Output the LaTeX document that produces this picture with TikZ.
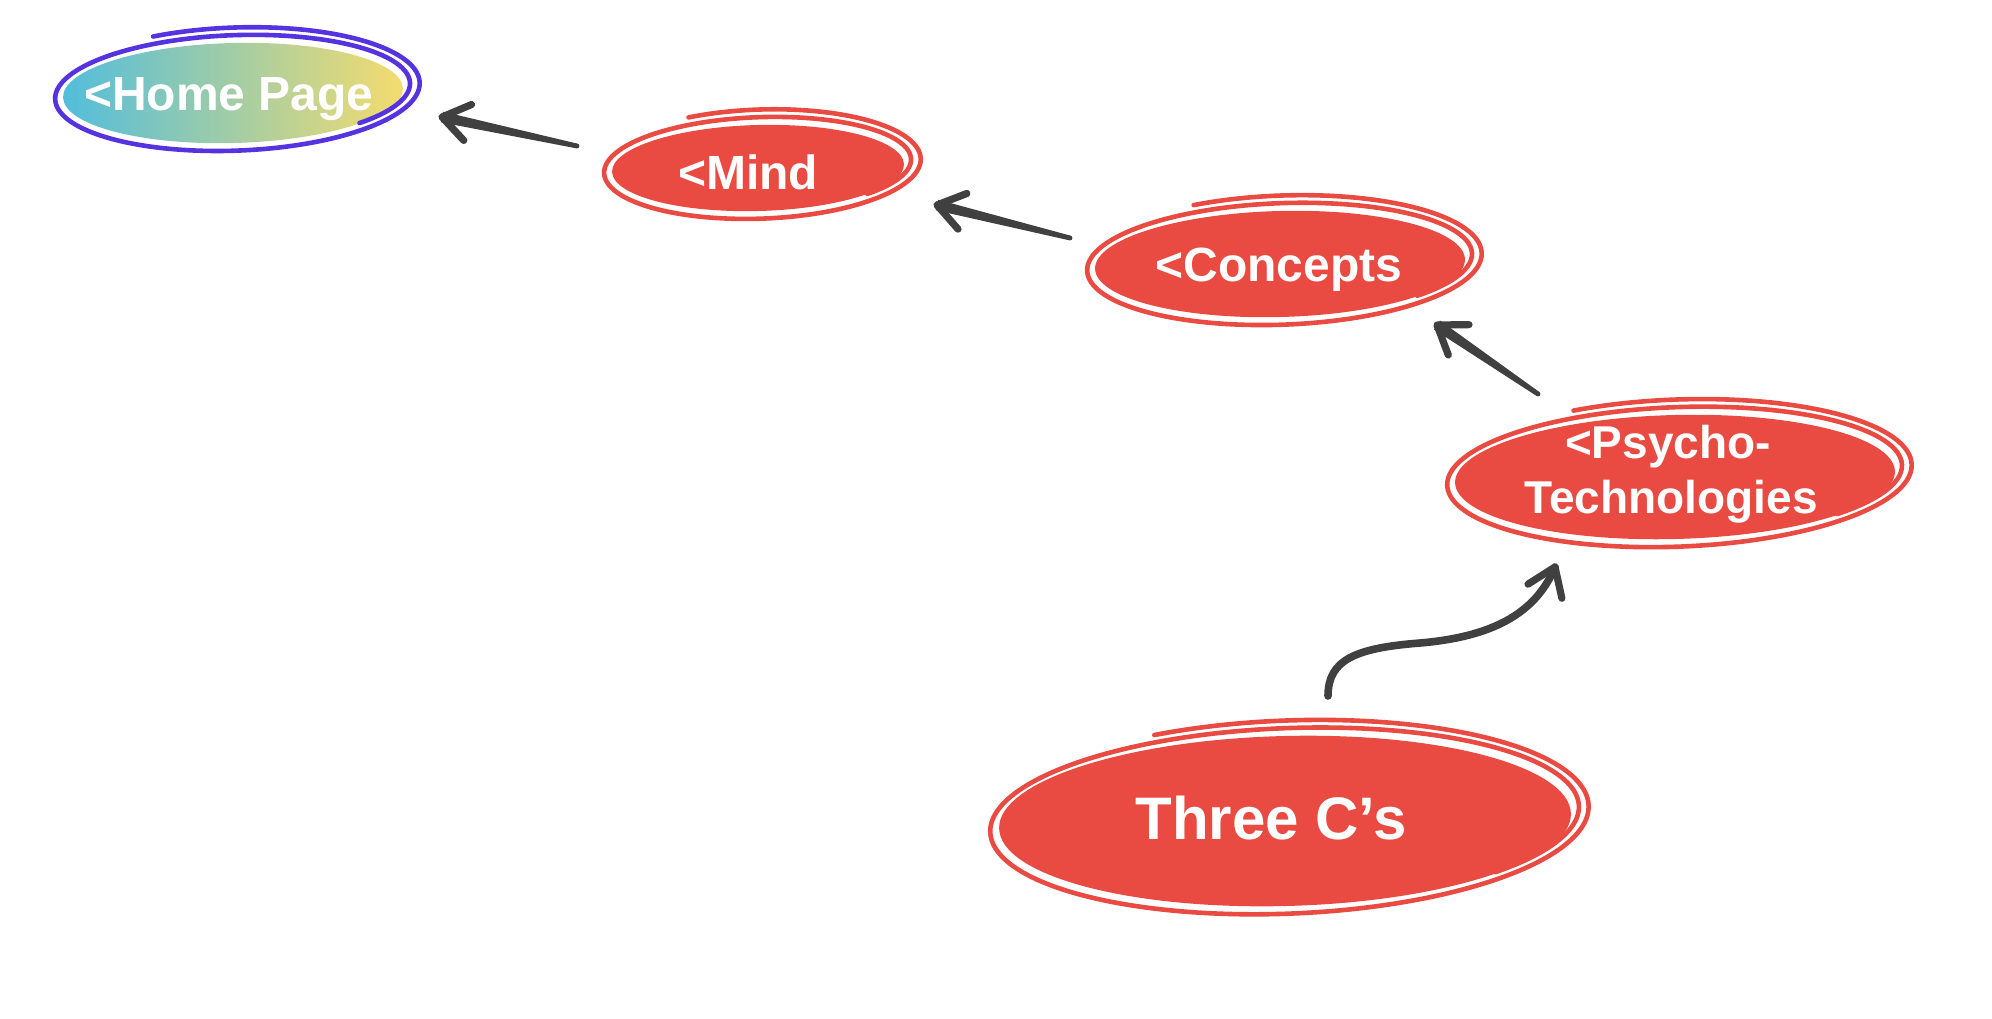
\documentclass[tikz,border=0pt]{standalone}
\usepackage{fontspec}
\setmainfont{Liberation Sans}
\usetikzlibrary{arrows.meta,calc,shapes.geometric}
\definecolor{nodered}{HTML}{E94A42}
\definecolor{ringpurple}{HTML}{5533E0}
\definecolor{homecyan}{HTML}{52BDDC}
\definecolor{homeyellow}{HTML}{F4DC6E}
\definecolor{arrowgray}{HTML}{404040}
\tikzset{
  bubble/.style={ellipse, inner sep=0pt, draw=none, rotate=1.5},
  redbubble/.style={bubble, fill=nodered},
  lbl/.style={text=white, font=\fontsize{24}{28}\selectfont\bfseries, inner sep=0pt, anchor=base},
  ring/.style={line width=2.3pt, line cap=round, line join=round},
  shaft/.style={fill=arrowgray},
  barb/.style={draw=arrowgray, line width=3.6pt, line cap=round, line join=round},
}
% #1 node, #2 rx, #3 ry, #4 colour
\newcommand{\sketchring}[4]{%
  \begin{scope}[shift={(#1.center)}, shift={(2,-2)}, rotate=2.5]
    \draw[ring, draw=#4] plot[domain=-115:405, samples=160, smooth, variable=\ang]
      ({(#2+18-14*(\ang+115)/520)*cos(\ang)}, {(#3+14-11*(\ang+115)/520)*sin(\ang)});
  \end{scope}}
\newcommand{\straightconn}[2]{% tail, head
  \fill[shaft] ($(#1)!1.2pt!90:(#2)$) -- ($(#2)!2.7pt!-90:(#1)$) -- ($(#2)!2.7pt!90:(#1)$) -- ($(#1)!1.2pt!-90:(#2)$) -- cycle;
  \fill[shaft] (#1) circle[radius=1.2pt];
  \draw[barb] ($(#2)!16pt!35:(#1)$) -- (#2) -- ($(#2)!16pt!-35:(#1)$);}
\begin{document}
\begin{tikzpicture}[x=0.5pt,y=-0.5pt]
\useasboundingbox (0,0) rectangle (1992,1018);
\fill[white] (0,0) rectangle (1992,1018);

% bubbles
\node[bubble, left color=homecyan, right color=homeyellow, minimum width=170pt, minimum height=50pt] (home) at (233,93) {};
\node[redbubble, minimum width=146pt, minimum height=43pt] (mind) at (758,168) {};
\node[redbubble, minimum width=185pt, minimum height=53pt] (concepts) at (1280,264) {};
\node[redbubble, minimum width=220pt, minimum height=62pt] (psycho) at (1675,477) {};
\node[redbubble, minimum width=286pt, minimum height=85pt] (three) at (1285,821) {};

% sketchy outlines
\sketchring{home}{170}{50}{ringpurple}
\sketchring{mind}{146}{43}{nodered}
\sketchring{concepts}{185}{53}{nodered}
\sketchring{psycho}{220}{62}{nodered}
\sketchring{three}{287}{85}{nodered}

% labels
\node[lbl] (homet) at (229,110) {<Home Page};
\node[lbl] (mindt) at (748,189) {<Mind};
\node[lbl] (conceptst) at (1279,281) {<Concepts};
\node[lbl, font=\fontsize{23}{27}\selectfont\bfseries] (psychot1) at (1668,458) {<Psycho-};
\node[lbl, font=\fontsize{23}{27}\selectfont\bfseries] (psychot2) at (1671,513) {Technologies};
\node[lbl, font=\fontsize{30}{34}\selectfont\bfseries] (threet) at (1271,839) {Three C’s};

% connector end points
\coordinate (a1t) at ($(mind.center)+(-181,-22)$);
\coordinate (a1h) at ($(home.center)+(209,24)$);
\coordinate (a2t) at ($(concepts.center)+(-210,-26)$);
\coordinate (a2h) at ($(mind.center)+(179,37)$);
\coordinate (a3t) at ($(psycho.center)+(-137,-83)$);
\coordinate (a3h) at ($(concepts.center)+(157,61)$);
\coordinate (a4t) at ($(three.center)+(43,-125)$);
\coordinate (a4h) at ($(psycho.center)+(-120,90)$);
\coordinate (a4m) at ($(a4t)+(92,-53)$);
\coordinate (a4c) at ($(a4h)+(-20,48)$);

\straightconn{a1t}{a1h}
\straightconn{a2t}{a2h}
\straightconn{a3t}{a3h}

\draw[arrowgray, line width=3.8pt, line cap=round]
  (a4t) .. controls +(0,-36) and +(-65,5) .. (a4m) .. controls +(70,-6) and (a4c) .. (a4h);
\draw[barb] ($(a4h)!16pt!35:(a4c)$) -- (a4h) -- ($(a4h)!16pt!-35:(a4c)$);
\end{tikzpicture}
\end{document}
